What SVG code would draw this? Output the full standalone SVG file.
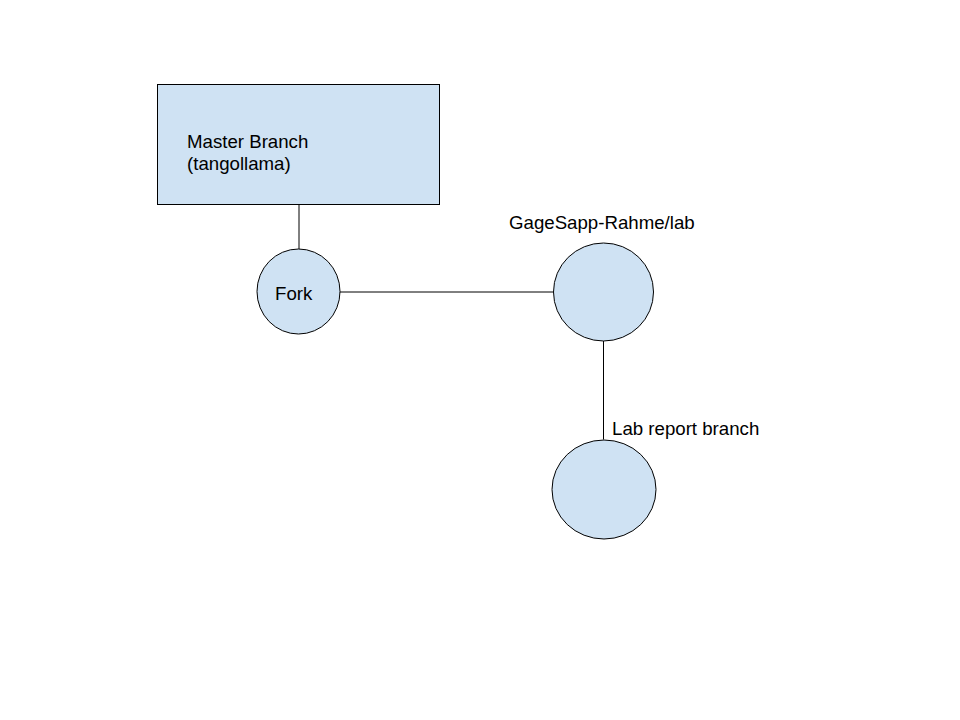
<svg xmlns="http://www.w3.org/2000/svg" width="960" height="720" viewBox="0 0 960 720">
<style>
.n{fill:#cfe2f3;stroke:#000;stroke-width:1}
.c{stroke:#000;stroke-width:1;fill:none}
text{font-family:"Liberation Sans",Arial,sans-serif;font-size:18.67px;fill:#000}
</style>
<rect width="960" height="720" fill="#fff"/>
<g id="connectors">
<line class="c" x1="299" y1="204" x2="299" y2="250"/>
<line class="c" x1="339" y1="292" x2="553" y2="292"/>
<line class="c" x1="603.5" y1="341" x2="603.5" y2="439.5"/>
</g>
<g id="master">
<rect class="n" x="157.5" y="84.5" width="282" height="120"/>
<text x="187" y="147.5">Master Branch</text>
<text x="187" y="170">(tangollama)</text>
</g>
<g id="fork">
<ellipse class="n" cx="298.5" cy="291.5" rx="41.5" ry="42.5"/>
<text x="275" y="300">Fork</text>
</g>
<g id="lab">
<ellipse class="n" cx="603.5" cy="292" rx="50" ry="49"/>
<text x="509" y="228.5">GageSapp-Rahme/lab</text>
</g>
<g id="labreport">
<ellipse class="n" cx="604" cy="489.5" rx="52" ry="49.5"/>
<text x="612" y="434.5">Lab report branch</text>
</g>
</svg>
